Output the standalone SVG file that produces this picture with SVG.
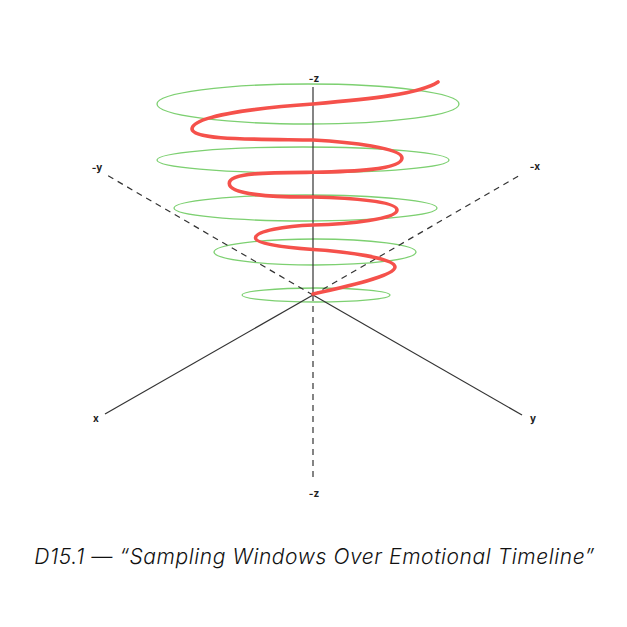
<svg xmlns="http://www.w3.org/2000/svg" width="627" height="627" viewBox="0 0 627 627">
<style>
.ax{stroke:#333;stroke-width:1.2;fill:none}
.dash{stroke-dasharray:6 5}
.win{fill:none;stroke:#7dd071;stroke-width:1.3}
.tl{fill:none;stroke:#f5514b;stroke-width:3.6;stroke-linecap:round;stroke-linejoin:round}
.lb{font-family:Inter,"Liberation Sans",sans-serif;font-size:10px;font-weight:700;fill:#222;text-anchor:middle}
.tt{font-family:Inter,"Liberation Sans",sans-serif;font-size:21px;font-style:italic;font-weight:350;letter-spacing:0.6px;fill:#111;text-anchor:middle}
</style>
<rect width="627" height="627" fill="#fff"/>
<g id="windows">
<ellipse id="w1" cx="308" cy="104" rx="151" ry="20" class="win"/>
<ellipse id="w2" cx="303" cy="160" rx="146" ry="13" class="win"/>
<ellipse id="w3" cx="305.5" cy="208" rx="131.5" ry="13" class="win"/>
<ellipse id="w4" cx="315" cy="252" rx="101" ry="13" class="win"/>
<ellipse id="w5" cx="316" cy="295" rx="74" ry="7" class="win"/>
</g>
<g id="axes">
<line class="ax" x1="313" y1="295" x2="313" y2="87"/>
<line class="ax dash" x1="313" y1="295" x2="313" y2="479"/>
<line class="ax" x1="313" y1="295" x2="105" y2="414"/>
<line class="ax" x1="313" y1="295" x2="522" y2="415"/>
<line class="ax dash" x1="313" y1="295" x2="105" y2="174"/>
<line class="ax dash" x1="313" y1="295" x2="522" y2="174"/>
</g>
<g id="timeline">
<path class="tl" d="M438,82 C420,94 370,99 313,104 C255,108 192,116 192,129 C193,140 250,139 313,140 C350,142 402,148 402,158 C402,170 350,171.5 313,172.3 C275,172.5 229,172 229.3,183.3 C229,194 270,197.5 313,197 C350,198 397,201 397,210 C397,219 350,224 313,225 C285,226 255.5,231 255.5,238 C255.5,244 285,247.5 313,249.5 C345,251.5 395,258 395,267 C395,276 345,287 313,294"/>
</g>
<g id="labels">
<text class="lb" x="314" y="82">-z</text>
<text class="lb" x="314" y="497">-z</text>
<text class="lb" x="96" y="422">x</text>
<text class="lb" x="533" y="422">y</text>
<text class="lb" x="97" y="171">-y</text>
<text class="lb" x="535" y="170">-x</text>
</g>
<g id="title">
<text class="tt" x="314.5" y="564">D15.1 — “Sampling Windows Over Emotional Timeline”</text>
</g>
</svg>
